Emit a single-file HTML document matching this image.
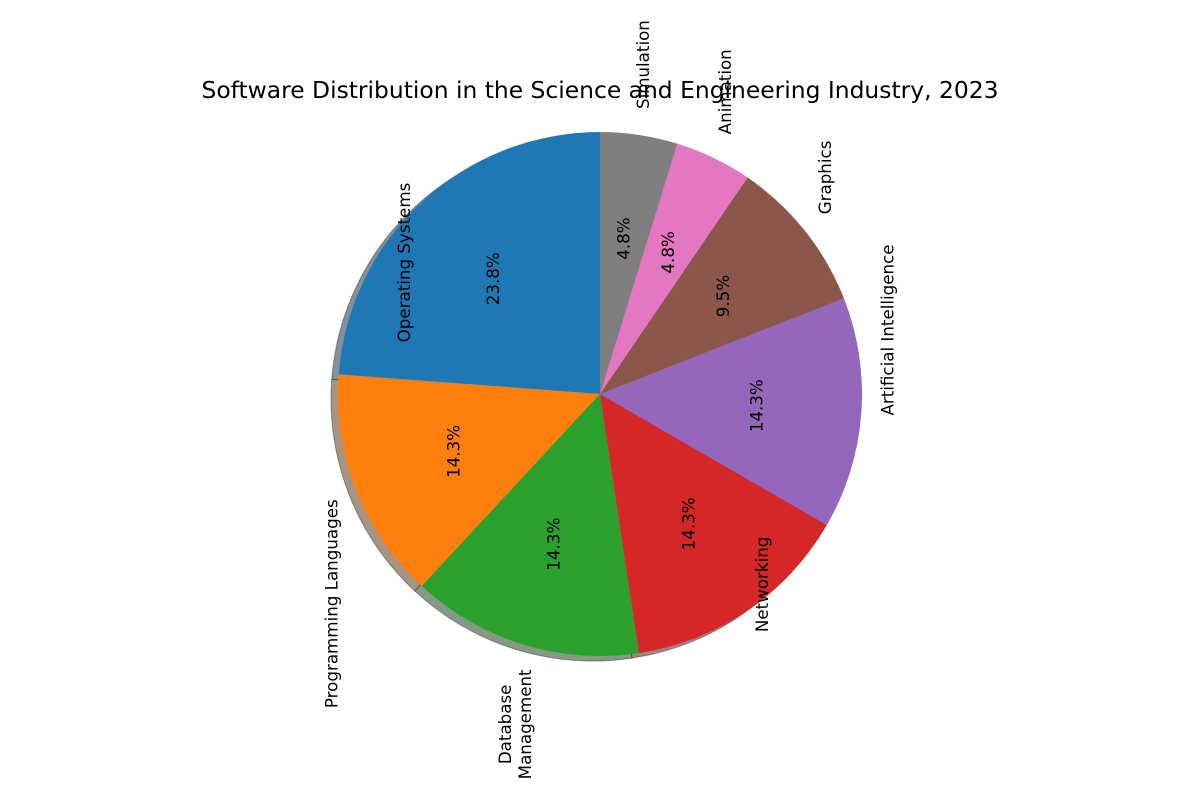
<!DOCTYPE html>
<html><head><meta charset="utf-8"><style>
html,body{margin:0;padding:0;background:#fff;}
svg{display:block;font-family:"DejaVu Sans","Liberation Sans",sans-serif;}
</style></head><body>
<svg id="chart" width="1200" height="800" viewBox="0 0 1200 800">
<rect width="1200" height="800" fill="#fff"/>
<text x="600" y="98" text-anchor="middle" font-size="23.4" fill="#000">Software Distribution in the Science and Engineering Industry, 2023</text>
<g id="shadows"></g>
<g id="slices"></g>
<g id="labels"></g>
</svg>
<script>
const categories = ["Operating Systems","Programming Languages","Database\nManagement","Networking","Artificial Intelligence","Graphics","Animation","Simulation"];
const values = [5,3,3,3,3,2,1,1];
const colors = ["#1f77b4","#ff7f0e","#2ca02c","#d62728","#9467bd","#8c564b","#e377c2","#7f7f7f"];
// layout: label text extends down (+1) or up (-1) from its anchor
const labelDir = [1,1,1,-1,-1,-1,-1,-1];

const NS="http://www.w3.org/2000/svg";
const cx=600, cy=394, R=262, startAngle=90, FS=16.7;
const total=values.reduce((a,b)=>a+b,0);
const px=(a,r)=>cx+r*Math.cos(a*Math.PI/180);
const py=(a,r)=>cy-r*Math.sin(a*Math.PI/180);
function arcPath(a0,a1,ox,oy){
  const large=(a1-a0)>180?1:0;
  return `M${cx+ox},${cy+oy} L${px(a0,R)+ox},${py(a0,R)+oy} A${R},${R} 0 ${large} 0 ${px(a1,R)+ox},${py(a1,R)+oy} Z`;
}
function shade(hex){
  const n=parseInt(hex.slice(1),16);
  const c=[(n>>16)&255,(n>>8)&255,n&255].map(v=>Math.round(0.15*v+127.5));
  return `rgb(${c[0]},${c[1]},${c[2]})`;
}
const sh=document.getElementById('shadows'), sl=document.getElementById('slices'), lb=document.getElementById('labels');
let a=startAngle;
values.forEach((v,i)=>{
  const sweep=v/total*360, a0=a, a1=a+sweep, mid=(a0+a1)/2;
  const s=document.createElementNS(NS,'path');
  s.setAttribute('d',arcPath(a0,a1,-7,5));
  s.setAttribute('fill',shade(colors[i]));
  s.setAttribute('stroke','rgba(0,0,0,0.35)');
  s.setAttribute('stroke-width','1');
  
  
  sh.appendChild(s);
  const p=document.createElementNS(NS,'path');
  p.setAttribute('d',arcPath(a0,a1,0,0));
  p.setAttribute('fill',colors[i]);
  
  
  sl.appendChild(p);
  const pct=document.createElementNS(NS,'text');
  const tx=px(mid,R*0.6), ty=py(mid,R*0.6);
  pct.setAttribute('transform',`translate(${tx},${ty}) rotate(-90)`);
  pct.setAttribute('text-anchor','middle');
  pct.setAttribute('dy','0.35em');
  pct.setAttribute('font-size',FS);
  pct.textContent=(v/total*100).toFixed(1)+'%';
  
  
  lb.appendChild(pct);
  const lines=categories[i].split('\n');
  const t=document.createElementNS(NS,'text');
  t.setAttribute('font-size',FS);
  t.setAttribute('text-anchor','middle');
  lines.forEach((ln,k)=>{
    const ts=document.createElementNS(NS,'tspan');
    ts.setAttribute('x','0');
    ts.setAttribute('dy',k===0?(0.35-(lines.length-1)*0.6)+'em':'1.2em');
    ts.textContent=ln;
    t.appendChild(ts);
  });
  
  
  lb.appendChild(t);
  let len=0;
  t.querySelectorAll('tspan').forEach(ts=>{len=Math.max(len,ts.getComputedTextLength());});
  const ax=px(mid,R*1.1), ay=py(mid,R*1.1)+labelDir[i]*len/2;
  t.setAttribute('transform',`translate(${ax},${ay}) rotate(-90)`);
  a=a1;
});
</script>
</body></html>
